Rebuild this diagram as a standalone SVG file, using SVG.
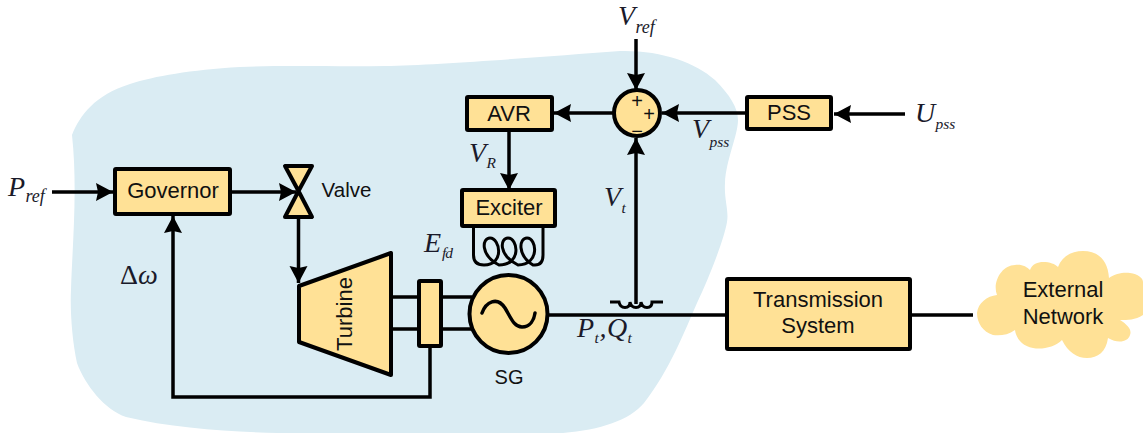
<svg xmlns="http://www.w3.org/2000/svg" width="1143" height="433" viewBox="0 0 1143 433">
<style>
.b{fill:#ffe196;stroke:#000;stroke-width:4;stroke-linejoin:round}
.l{fill:none;stroke:#000;stroke-width:3.500}
.t{font-family:"Liberation Sans",Arial,sans-serif;font-size:22px;fill:#111;text-anchor:middle}
.m{font-family:"Liberation Serif","Times New Roman",serif;font-style:italic;font-size:28px;fill:#1a1a2a}
.s{font-size:18px}
.p{font-size:15.500px}
</style>
<defs><marker id="a" markerUnits="userSpaceOnUse" markerWidth="20" markerHeight="20" refX="17" refY="10" orient="auto"><path d="M0 1L17 10L0 19L2 10Z" fill="#000"/></marker></defs>
<path id="region" d="M72 135C80 115 95 95 130 84C155 76 190 70 240 67C290 65 340 67 385 66C440 65 540 57 620 51C660 50 695 62 715 80C730 95 738 108 738 120C738 135 726 160 725 183C724 200 729 210 727 222C724 240 708 280 697 303C685 330 670 370 644 403C630 420 600 430 563 433L300 433C250 433 180 430 126 417C105 410 85 385 77 363C72 340 70 310 71 290C72 250 78 190 72 135Z" fill="#daecf3"/>
<g id="connectors" class="l">
<path d="M52 192H113" marker-end="url(#a)"/>
<path d="M231 192H296" marker-end="url(#a)"/>
<path d="M298.500 217V283" marker-end="url(#a)"/>
<path d="M430 346V397H173V216" marker-end="url(#a)"/>
<path d="M392 297H418M392 329H418M442 297H472M442 329H472"/>
<path d="M548 315H727M910 315H973"/>
<path d="M636 39V90" marker-end="url(#a)"/>
<path d="M614 113H554" marker-end="url(#a)"/>
<path d="M747 113H662" marker-end="url(#a)"/>
<path d="M905 114H834" marker-end="url(#a)"/>
<path d="M636 304V138" marker-end="url(#a)"/>
<path d="M509 130V190" marker-end="url(#a)"/>
<path d="M610 302H619Q620 307.500 625 307.500Q630 307.500 630 302Q631 307.500 636 307.500Q641 307.500 641 302Q642 307.500 647 307.500Q652 307.500 652 302H663" stroke-width="3"/>
</g>
<g id="governor"><rect class="b" x="115" y="169" width="115" height="45" rx="1"/><text class="t" x="173" y="198">Governor</text></g>
<g id="valve"><path class="b" d="M285 166H312L298.500 191L312 217H285L298.500 191Z"/><text class="t" x="346.500" y="197" style="font-size:20.500px">Valve</text></g>
<g id="turbine"><path class="b" d="M299 286L391 253V375L299 342Z"/><text class="t" transform="translate(352 314) rotate(-90)">Turbine</text></g>
<g id="shaft"><rect class="b" x="419" y="281" width="22" height="65" rx="1"/></g>
<g id="sg"><circle class="b" cx="508.500" cy="314" r="39"/><path class="l" d="M482 313C486 302 497 296 505 308C511 318 514 327 522 327C530 327 534 320 535 313" stroke-linecap="round"/><text class="t" x="509" y="384" style="font-size:20px">SG</text></g>
<g id="exciter"><rect class="b" x="462" y="190" width="93" height="36" rx="1"/><text class="t" x="509" y="215">Exciter</text>
<path class="l" style="stroke-width:3" d="M473.500 226V255Q473.500 265 484 265C505 265 500 238 490 238C482 238 480 255 499 265C522 265 518 238 508 238C500 238 498 255 518 265C540 265 537 238 527 238C519 238 517 255 533 265H535Q543 265 543 255V226"/></g>
<g id="avr"><rect class="b" x="467" y="97" width="85" height="33" rx="1"/><text class="t" x="509" y="121">AVR</text></g>
<g id="sum"><circle class="b" cx="637" cy="113" r="23"/><text class="t" x="637" y="108" style="font-size:20px">+</text><text class="t" x="649" y="121" style="font-size:20px">+</text><text class="t" x="637" y="138" style="font-size:20px">−</text></g>
<g id="pss"><rect class="b" x="747" y="97" width="84" height="32" rx="1"/><text class="t" x="789" y="120">PSS</text></g>
<g id="transmission"><rect class="b" x="727" y="279" width="183" height="70" rx="1"/><text class="t" x="818" y="307">Transmission</text><text class="t" x="818" y="333">System</text></g>
<g id="network"><path fill="#ffe196" d="M977 313C978 303 987 296 997 295C992 282 1002 265 1015 265C1022 264 1027 267 1030 270C1032 264 1038 262 1043 262C1050 262 1055 264 1058 267C1062 256 1072 251 1083 251C1098 251 1108 260 1109 278C1115 273 1125 272 1130 273C1138 274 1143 278 1143 282V315C1135 320 1128 320 1120 320C1128 325 1132 330 1130 335C1128 342 1118 344 1108 338C1106 352 1098 358 1087 358C1077 358 1068 352 1062 340C1055 347 1042 350 1033 348C1022 346 1016 338 1015 330C1008 335 1000 336 993 335C983 332 977 323 977 313Z"/><text class="t" x="1063" y="297">External</text><text class="t" x="1063" y="324">Network</text></g>
<g id="labels">
<text class="m" x="8" y="196">P<tspan class="s" x="25.500" y="202">ref</tspan></text>
<text class="m" x="120" y="284" style="font-style:normal">Δ<tspan style="font-style:italic">ω</tspan></text>
<text class="m" x="618" y="25">V<tspan class="s" x="635.500" y="33">ref</tspan></text>
<text class="m" x="692" y="138">V<tspan class="p" x="709.500" y="147">pss</tspan></text>
<text class="m" x="469" y="162">V<tspan class="p" x="486.500" y="168">R</tspan></text>
<text class="m" x="604" y="206">V<tspan class="p" x="621.500" y="213">t</tspan></text>
<text class="m" x="424" y="252">E<tspan class="p" x="442" y="258" style="letter-spacing:-1px">fd</tspan></text>
<text class="m" x="577" y="337">P<tspan class="p" x="594.500" y="343">t</tspan><tspan x="599.500" y="337">,</tspan><tspan x="607" y="337">Q</tspan><tspan class="p" x="627.500" y="343">t</tspan></text>
<text class="m" x="915" y="122">U<tspan class="p" x="935.500" y="129">pss</tspan></text>
</g>
</svg>
